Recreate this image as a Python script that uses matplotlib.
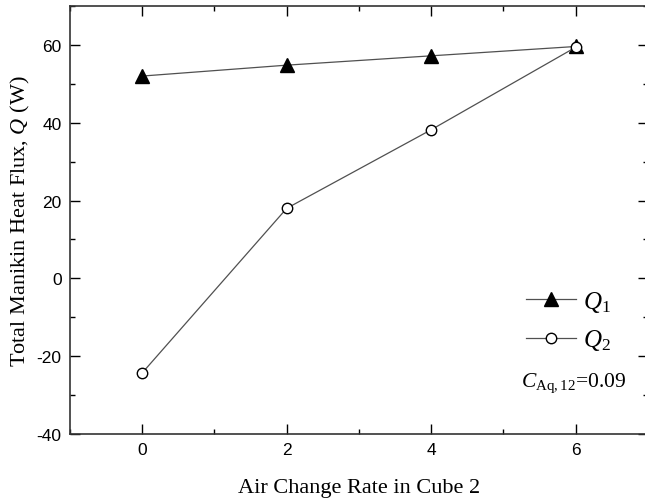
import numpy as np
import matplotlib
matplotlib.use("Agg")
import matplotlib.pyplot as plt
from matplotlib.ticker import MultipleLocator

# data
air_change = [0, 2, 4, 6]
q1_vals = [52.0, 54.8, 57.2, 59.6]
q2_vals = [-24.3, 18.0, 38.2, 59.4]

plt.rcParams['mathtext.fontset'] = 'custom'
plt.rcParams['mathtext.rm'] = 'Liberation Serif'
plt.rcParams['mathtext.it'] = 'Liberation Serif:italic'
plt.rcParams['axes.unicode_minus'] = False

fig = plt.figure(figsize=(6.45, 5.02), dpi=100)
ax = fig.add_axes([0.1085, 0.1335, 0.896, 0.8525])

ax.plot(air_change, q1_vals, color='#505050', lw=0.9, marker='^', ms=9.5,
        mfc='black', mec='black', label=r'$Q_1$')
ax.plot(air_change, q2_vals, color='#505050', lw=0.9, marker='o', ms=7.5,
        mfc='white', mec='black', mew=1.0, label=r'$Q_2$')

ax.set_xlim(-1, 7)
ax.set_ylim(-40, 70)
ax.xaxis.set_major_locator(MultipleLocator(2))
ax.xaxis.set_minor_locator(MultipleLocator(1))
ax.yaxis.set_major_locator(MultipleLocator(20))
ax.yaxis.set_minor_locator(MultipleLocator(10))
ax.tick_params(which='both', direction='in', top=True, right=True, width=1.0,
               labelsize=12.5, pad=6)
ax.tick_params(which='major', length=7)
ax.tick_params(which='minor', length=3.5)
for lab in ax.get_xticklabels() + ax.get_yticklabels():
    lab.set_fontfamily('Liberation Sans')
for sp in ax.spines.values():
    sp.set_linewidth(1.2)
    sp.set_color('#333333')

ax.set_xlabel('Air Change Rate in Cube 2', fontfamily='Liberation Serif',
              fontsize=16, labelpad=15)
ax.set_ylabel(r'Total Manikin Heat Flux, $\mathit{Q}$ (W)',
              fontfamily='Liberation Serif', fontsize=16, labelpad=3)

leg = ax.legend(loc='center left', bbox_to_anchor=(0.75, 0.265), frameon=False,
                fontsize=18, handlelength=2.0, handletextpad=0.3,
                labelspacing=0.55)
ax.text(0.78, 0.12, r'$C_{\mathrm{Aq,12}}$=0.09', transform=ax.transAxes,
        fontfamily='Liberation Serif', fontsize=15.5, va='center')

fig.savefig('out.png', dpi=100)
